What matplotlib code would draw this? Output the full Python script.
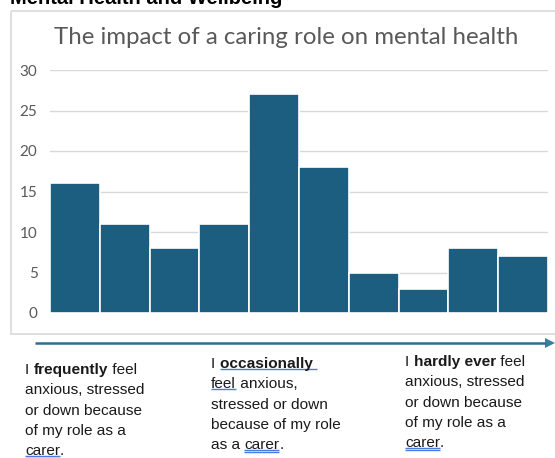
import matplotlib
matplotlib.use("Agg")
import matplotlib.pyplot as plt
import numpy as np
from matplotlib.patches import Rectangle, Polygon

# Responses per point on the frequency scale (frequently -> hardly ever)
scale_points = list(range(1, 11))
responses = [16, 11, 8, 11, 27, 18, 5, 3, 8, 7]
y_ticks = [0, 5, 10, 15, 20, 25, 30]

page_heading = "Mental Health and Wellbeing"
chart_title = "The impact of a caring role on mental health"

# Caption blocks under the scale arrow: each line is a list of
# (text, bold, underlined) pieces
captions = [
    [
        [("I ", False, False), ("frequently", True, False), (" feel", False, False)],
        [("anxious, stressed", False, False)],
        [("or down because", False, False)],
        [("of my role as a", False, False)],
        [("carer", False, True), (".", False, False)],
    ],
    [
        [("I ", False, False), ("occasionally ", True, True)],
        [("feel", False, True), (" anxious,", False, False)],
        [("stressed or down", False, False)],
        [("because of my role", False, False)],
        [("as a ", False, False), ("carer", False, True), (".", False, False)],
    ],
    [
        [("I ", False, False), ("hardly ever", True, False), (" feel", False, False)],
        [("anxious, stressed", False, False)],
        [("or down because", False, False)],
        [("of my role as a", False, False)],
        [("carer", False, True), (".", False, False)],
    ],
]

W, H = 555, 458
fig = plt.figure(figsize=(W / 100, H / 100), dpi=100)
fig.patch.set_facecolor("white")

# Overlay in pixel coordinates for the frame, arrow and captions
ov = fig.add_axes([0, 0, 1, 1])
ov.set_xlim(0, W)
ov.set_ylim(H, 0)
ov.axis("off")
ov.set_zorder(0)

# Chart frame
ov.add_patch(Rectangle((11, 11), W + 20, 323, fill=False,
                       edgecolor="#d9d9d9", linewidth=1.2))

# Heading above the chart (runs off the top edge)
ov.text(10, 4.5, page_heading, fontsize=14.5, fontweight="bold",
        family="Liberation Sans", color="black", ha="left", va="baseline")

# Chart title
ov.text(286, 38, chart_title, fontsize=17.3, family="Lato",
        color="#595959", ha="center", va="center")

# Scale arrow
x0, x1, ya = 35, 546, 343
ov.plot([x0, x1], [ya, ya], color="#2f6f90", linewidth=1.8, solid_capstyle="butt")
ov.add_patch(Polygon([(x1 - 1, ya - 5), (W, ya), (x1 - 1, ya + 5)], closed=True,
                     facecolor="#3a7fa0", edgecolor="none"))

# Bar chart
ax = fig.add_axes([50 / W, 1 - 313 / H, (548 - 50) / W, (313 - 70) / H])
ax.set_zorder(1)
ax.bar(scale_points, responses, width=1.0, color="#1b5e80",
       edgecolor="white", linewidth=1.2, zorder=3)
ax.set_xlim(0.5, 10.5)
ax.set_ylim(0, 30)
ax.set_yticks(y_ticks)
ax.set_yticklabels([str(t) for t in y_ticks], family="Lato", fontsize=11, color="#595959")
ax.set_xticks([])
ax.tick_params(axis="y", length=0, pad=9)
ax.grid(axis="y", color="#d9d9d9", linewidth=1, zorder=0)
for s in ax.spines.values():
    s.set_visible(False)

# Captions
text_kw = dict(fontsize=11.1, family="Liberation Sans", color="#1a1a1a")
block_pos = [(25, 370), (211, 364), (405, 362)]
line_gap = 20.3
underlined = []
for (bx, by), block in zip(block_pos, captions):
    for li, line in enumerate(block):
        y = by + li * line_gap
        prev = None
        for txt, bold, ul in line:
            weight = "bold" if bold else "normal"
            if prev is None:
                t = ov.text(bx, y, txt, ha="left", va="center",
                            fontweight=weight, **text_kw)
            else:
                t = ov.annotate(txt, xy=(1, 0.5), xycoords=prev, ha="left",
                                va="center", fontweight=weight, **text_kw)
            if ul:
                underlined.append((t, txt))
            prev = t

fig.canvas.draw()
inv = ov.transData.inverted()
for t, txt in underlined:
    bb = t.get_window_extent()
    xa, yb = inv.transform((bb.x0, bb.y0))
    xb = inv.transform((bb.x1, bb.y0))[0]
    yl = yb - 2
    ov.plot([xa, xb], [yl, yl], color="#4a7be0", linewidth=1.0, solid_capstyle="butt")
    if txt == "carer":
        ov.plot([xa, xb], [yl + 2, yl + 2], color="#4a7be0", linewidth=1.0,
                solid_capstyle="butt")

fig.savefig("out.png", dpi=100)
